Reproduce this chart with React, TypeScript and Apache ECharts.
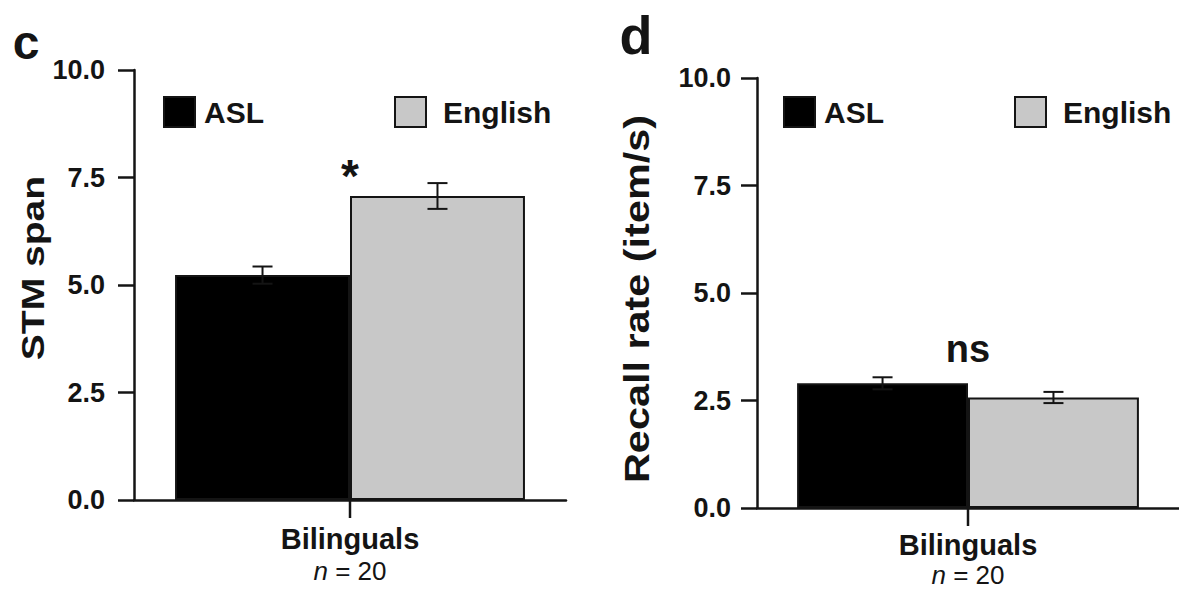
import React, { useEffect, useRef } from "react";
import * as echarts from "echarts";

const categories = ["Bilinguals"];
const seriesNames = ["ASL", "English"];
// Panel c: STM span
const stmASL = [5.23];
const stmASLErr = [0.2];
const stmEnglish = [7.07];
const stmEnglishErr = [0.3];
// Panel d: Recall rate (item/s)
const rateASL = [2.9];
const rateASLErr = [0.14];
const rateEnglish = [2.57];
const rateEnglishErr = [0.13];
// annotations: [categoryIndex, value, text]
const stmAnnotation = [[0, 7.8, "*"]];
const rateAnnotation = [[0, 3.7, "ns"]];
const yMin = 0;
const yMax = 10;
const yInterval = 2.5;

const FONT = "'Liberation Sans', Arial, Helvetica, sans-serif";
const INK = "#141414";
const GRAY = "#c8c8c8";

function errData(aVals: number[], aErr: number[], eVals: number[], eErr: number[]) {
  const out: any[] = [];
  aVals.forEach((v, i) => out.push([i, v, aErr[i], -1]));
  eVals.forEach((v, i) => out.push([i, v, eErr[i], 1]));
  return out;
}

const renderErr = (params: any, api: any) => {
  const x = api.value(0);
  const v = api.value(1);
  const e = api.value(2);
  const side = api.value(3);
  const band = api.size([1, 0])[0];
  const c = api.coord([x, v]);
  const cx = c[0] + side * band * 0.2025;
  const top = api.coord([x, v + e])[1];
  const bot = api.coord([x, v - e])[1];
  const hw = 10;
  const ls = { stroke: INK, lineWidth: 2 };
  return {
    type: "group",
    children: [
      { type: "line", shape: { x1: cx, y1: top, x2: cx, y2: bot }, style: ls },
      { type: "line", shape: { x1: cx - hw, y1: top, x2: cx + hw, y2: top }, style: ls },
      { type: "line", shape: { x1: cx - hw, y1: bot, x2: cx + hw, y2: bot }, style: ls },
    ],
  };
};

// category tick at the centre of each category, below the x axis
const renderCatTick = (params: any, api: any) => {
  const c = api.coord([api.value(0), yMin]);
  return {
    type: "line",
    shape: { x1: c[0], y1: c[1], x2: c[0], y2: c[1] + 18 },
    style: { stroke: INK, lineWidth: 2.5 },
  };
};

const renderNote = (params: any, api: any) => {
  const x = api.value(0);
  const v = api.value(1);
  const text = api.value(2);
  const c = api.coord([x, v]);
  const isStar = text === "*";
  const fs = isStar ? 46 : 38;
  return {
    type: "text",
    x: c[0],
    y: c[1] + (isStar ? fs * 0.25 : 0),
    style: {
      text,
      fill: INK,
      font: `bold ${fs}px ${FONT}`,
      align: "center",
      verticalAlign: "middle",
    },
  };
};

function xAxisCfg(gridIndex: number, margin: number, lh1: number, lh2: number) {
  return {
    type: "category",
    gridIndex,
    data: categories,
    axisLine: { lineStyle: { color: INK, width: 2.5 } },
    axisTick: { show: false },
    axisLabel: {
      margin,
      formatter: (b: string) => `{b|${b}}\n{n|n}{t| = 20}`,
      rich: {
        b: { fontFamily: FONT, fontSize: 29, fontWeight: "bold", color: INK, lineHeight: lh1, align: "center" },
        n: { fontFamily: FONT, fontSize: 26, fontStyle: "italic", color: INK, lineHeight: lh2 },
        t: { fontFamily: FONT, fontSize: 26, color: INK, lineHeight: lh2 },
      },
    },
  };
}

function yAxisCfg(gridIndex: number, margin: number) {
  return {
    type: "value",
    gridIndex,
    min: yMin,
    max: yMax,
    interval: yInterval,
    axisLine: { show: true, lineStyle: { color: INK, width: 2.5 } },
    axisTick: { show: true, length: 16, lineStyle: { color: INK, width: 2.5 } },
    splitLine: { show: false },
    axisLabel: {
      margin,
      formatter: (v: number) => v.toFixed(1),
      fontFamily: FONT,
      fontSize: 27,
      fontWeight: "bold",
      color: INK,
    },
  };
}

function barSeries(name: string, idx: number, data: number[], color: string) {
  return {
    type: "bar",
    name,
    xAxisIndex: idx,
    yAxisIndex: idx,
    data,
    barGap: "0%",
    barCategoryGap: "19%",
    itemStyle: { color, borderColor: INK, borderWidth: 2 },
    z: 2,
  };
}

function legendCfg(name: string, left: number, padLeft: number) {
  return {
    data: [name],
    left,
    top: 96,
    padding: 0,
    selectedMode: false,
    icon: "rect",
    itemWidth: 31,
    itemHeight: 30,
    textStyle: {
      fontFamily: FONT,
      fontSize: 30,
      fontWeight: "bold",
      color: INK,
      padding: [0, 0, 0, padLeft],
    },
  };
}

export default function App() {
  const ref = useRef<HTMLDivElement>(null);
  useEffect(() => {
    document.body.style.margin = "0";
    const chart = echarts.init(ref.current!, null, { renderer: "svg" });
    chart.setOption({
      animation: false,
      backgroundColor: "#ffffff",
      grid: [
        { left: 134, top: 70, width: 432, height: 430 },
        { left: 757, top: 78, width: 428, height: 430 },
      ],
      xAxis: [xAxisCfg(0, 23, 32, 32), xAxisCfg(1, 20, 33, 28)],
      yAxis: [yAxisCfg(0, 29), yAxisCfg(1, 26)],
      legend: [
        legendCfg(seriesNames[0], 163, 4),
        legendCfg(seriesNames[1], 394, 12),
        legendCfg(seriesNames[0], 783, 4),
        legendCfg(seriesNames[1], 1014, 12),
      ],
      series: [
        barSeries(seriesNames[0], 0, stmASL, "#000000"),
        barSeries(seriesNames[1], 0, stmEnglish, GRAY),
        barSeries(seriesNames[0], 1, rateASL, "#000000"),
        barSeries(seriesNames[1], 1, rateEnglish, GRAY),
        {
          type: "custom",
          name: "stmErr",
          xAxisIndex: 0,
          yAxisIndex: 0,
          data: errData(stmASL, stmASLErr, stmEnglish, stmEnglishErr),
          renderItem: renderErr,
          z: 5,
        },
        {
          type: "custom",
          name: "rateErr",
          xAxisIndex: 1,
          yAxisIndex: 1,
          data: errData(rateASL, rateASLErr, rateEnglish, rateEnglishErr),
          renderItem: renderErr,
          z: 5,
        },
        {
          type: "custom",
          name: "stmTick",
          xAxisIndex: 0,
          yAxisIndex: 0,
          data: categories.map((_, i) => [i]),
          renderItem: renderCatTick,
          clip: false,
          z: 5,
        },
        {
          type: "custom",
          name: "rateTick",
          xAxisIndex: 1,
          yAxisIndex: 1,
          data: categories.map((_, i) => [i]),
          renderItem: renderCatTick,
          clip: false,
          z: 5,
        },
        {
          type: "custom",
          name: "stmNote",
          xAxisIndex: 0,
          yAxisIndex: 0,
          data: stmAnnotation,
          dimensions: ["x", "y", { name: "t", type: "ordinal" }],
          renderItem: renderNote,
          z: 6,
        },
        {
          type: "custom",
          name: "rateNote",
          xAxisIndex: 1,
          yAxisIndex: 1,
          data: rateAnnotation,
          dimensions: ["x", "y", { name: "t", type: "ordinal" }],
          renderItem: renderNote,
          z: 6,
        },
      ],
      graphic: [
        {
          type: "text",
          x: 26,
          y: 42,
          style: { text: "c", font: `bold 48px ${FONT}`, fill: INK, align: "center", verticalAlign: "middle" },
        },
        {
          type: "text",
          x: 636,
          y: 35,
          style: { text: "d", font: `bold 54px ${FONT}`, fill: INK, align: "center", verticalAlign: "middle" },
        },
        {
          type: "text",
          x: 33,
          y: 268,
          rotation: Math.PI / 2,
          scaleX: 1.22,
          style: { text: "STM span", font: `bold 32px ${FONT}`, fill: INK, align: "center", verticalAlign: "middle" },
        },
        {
          type: "text",
          x: 636,
          y: 299,
          rotation: Math.PI / 2,
          scaleX: 1.15,
          style: {
            text: "Recall rate (item/s)",
            font: `bold 36px ${FONT}`,
            fill: INK,
            align: "center",
            verticalAlign: "middle",
          },
        },
      ],
    });
    return () => chart.dispose();
  }, []);
  return <div ref={ref} style={{ width: 1179, height: 589 }} />;
}
